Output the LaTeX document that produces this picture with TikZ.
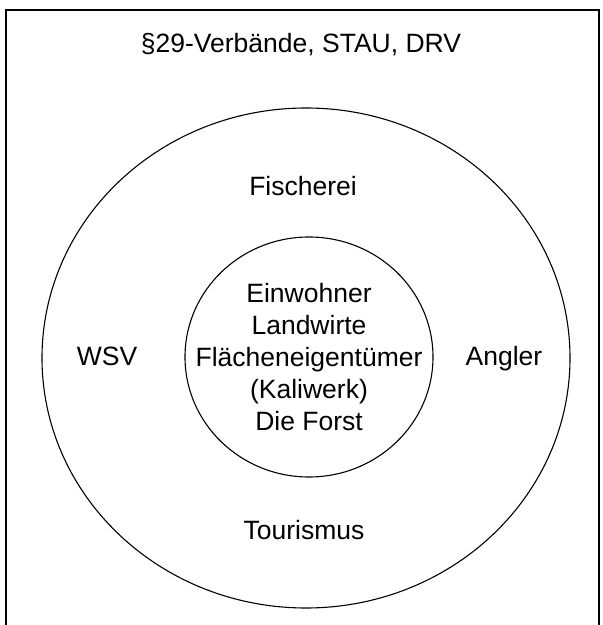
\documentclass[tikz,border=0pt]{standalone}
\usepackage{fontspec}
\setmainfont{Liberation Sans}
\usetikzlibrary{shapes.geometric}
\begin{document}
\begin{tikzpicture}[x=1pt, y=1pt,
    ring/.style={ellipse, draw, line width=1.1pt, inner sep=0pt},
    lbl/.style={font=\fontsize{26.5}{32}\selectfont}
]
\useasboundingbox (0,0) rectangle (603,625);
\draw[line width=1.6pt] (6,0) -- (6,615) -- (599,615) -- (599,0);

\node[ring, minimum width=528pt, minimum height=500pt] (outer) at (306,267) {};
\node[ring, minimum width=248pt, minimum height=240pt] (inner) at (309,268) {};
\node[lbl, align=center] (core) at (inner.center)
    {Einwohner\\Landwirte\\Flächeneigentümer\\(Kaliwerk)\\Die Forst};

% groups around the rings
\node[lbl] (verb) at (301,580) {§29-Verbände, STAU, DRV};
\node[lbl] (fisch) at (303,439) {Fischerei};
\node[lbl, anchor=base] (wsv) at (107,259) {WSV};
\node[lbl, anchor=base] (angler) at (504,259) {Angler};
\node[lbl] (tour) at (304,95) {Tourismus};

\end{tikzpicture}
\end{document}
